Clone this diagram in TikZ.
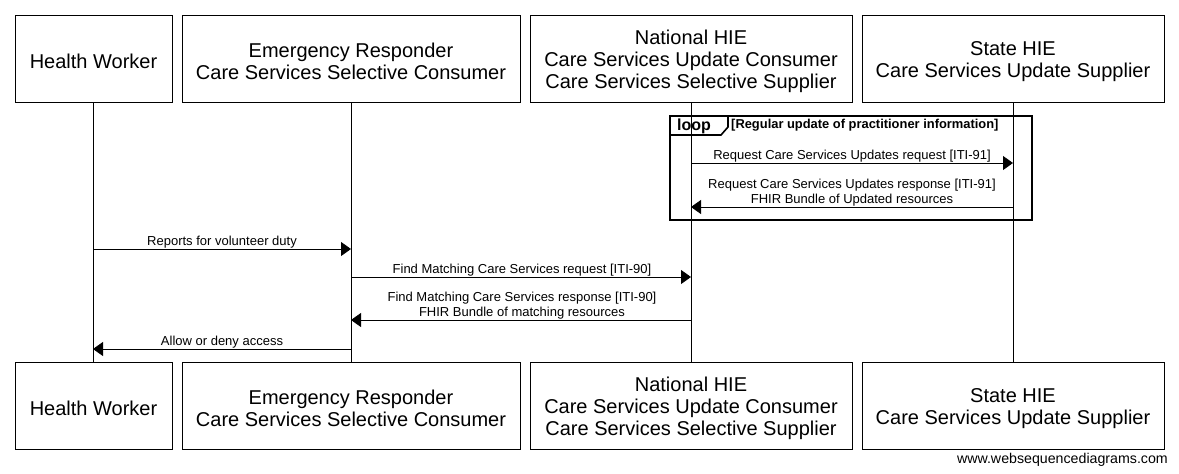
\documentclass[tikz,border=0pt]{standalone}
\usepackage{fontspec}
\setmainfont{Liberation Sans}
\usetikzlibrary{arrows.meta}
\begin{document}
\begin{tikzpicture}[x=1pt,y=-1pt,
  actor/.style={draw,line width=0.8pt,fill=white,inner sep=0pt,minimum height=87pt},
  atext/.style={align=center,font=\fontsize{20}{22}\selectfont,inner sep=0pt,yshift=-3pt},
  life/.style={line width=0.8pt},
  msg/.style={line width=0.8pt,-{Triangle[length=10pt,width=14pt]}},
  lbl/.style={font=\fontsize{13}{15}\selectfont,align=center,inner sep=0pt,anchor=south}
]
\useasboundingbox (0,0) rectangle (1179,474);
% lifelines
\foreach \x in {93,351,691,1013} \draw[life] (\x,102) -- (\x,362);
% top actors
\node[actor,minimum width=157pt] (hwT) at (93.5,58.5) {};
\node[atext] at (hwT.center) {Health Worker};
\node[actor,minimum width=338pt] (erT) at (351,58.5) {};
\node[atext] at (erT.center) {Emergency Responder\\Care Services Selective Consumer};
\node[actor,minimum width=322pt] (nhT) at (691,58.5) {};
\node[atext] at (nhT.center) {National HIE\\Care Services Update Consumer\\Care Services Selective Supplier};
\node[actor,minimum width=302pt] (shT) at (1013,58.5) {};
\node[atext] at (shT.center) {State HIE\\Care Services Update Supplier};
% bottom actors
\node[actor,minimum width=157pt] (hwB) at (93.5,405.5) {};
\node[atext] at (hwB.center) {Health Worker};
\node[actor,minimum width=338pt] (erB) at (351,405.5) {};
\node[atext] at (erB.center) {Emergency Responder\\Care Services Selective Consumer};
\node[actor,minimum width=322pt] (nhB) at (691,405.5) {};
\node[atext] at (nhB.center) {National HIE\\Care Services Update Consumer\\Care Services Selective Supplier};
\node[actor,minimum width=302pt] (shB) at (1013,405.5) {};
\node[atext] at (shB.center) {State HIE\\Care Services Update Supplier};
% loop frame
\draw[line width=1.6pt] (670,116) rectangle (1032,220);
\draw[line width=1.6pt] (670,116) -- (728,116) -- (728,127) -- (721,135) -- (670,135);
\node[font=\bfseries\fontsize{16}{18}\selectfont,anchor=west,inner sep=0pt] (lp) at (677,126.5) {loop};
\node[font=\bfseries\fontsize{12.9}{14}\selectfont,anchor=west,inner sep=0pt] (cond) at (731,125) {[Regular update of practitioner information]};
% coordinates for messages
\coordinate (n1) at (691,163); \coordinate (s1) at (1013,163);
\coordinate (s2) at (1013,207); \coordinate (n2) at (691,207);
\coordinate (h3) at (93,249); \coordinate (e3) at (351,249);
\coordinate (e4) at (351,277); \coordinate (n4) at (691,277);
\coordinate (n5) at (691,320); \coordinate (e5) at (351,320);
\coordinate (e6) at (351,349); \coordinate (h6) at (93,349);
\draw[msg] (n1) -- (s1);
\node[lbl] (l1) at (852,162) {Request Care Services Updates request [ITI-91]};
\draw[msg] (s2) -- (n2);
\node[lbl] (l2) at (852,206.5) {Request Care Services Updates response [ITI-91]\\FHIR Bundle of Updated resources};
\draw[msg] (h3) -- (e3);
\node[lbl] (l3) at (222,248) {Reports for volunteer duty};
\draw[msg] (e4) -- (n4);
\node[lbl] (l4) at (522,276) {Find Matching Care Services request [ITI-90]};
\draw[msg] (n5) -- (e5);
\node[lbl] (l5) at (522,319.5) {Find Matching Care Services response [ITI-90]\\FHIR Bundle of matching resources};
\draw[msg] (e6) -- (h6);
\node[lbl] (l6) at (222,348) {Allow or deny access};
\node[font=\fontsize{14.2}{16}\selectfont,anchor=east,inner sep=0pt] (wm) at (1168,460) {www.websequencediagrams.com};
\end{tikzpicture}
\end{document}
